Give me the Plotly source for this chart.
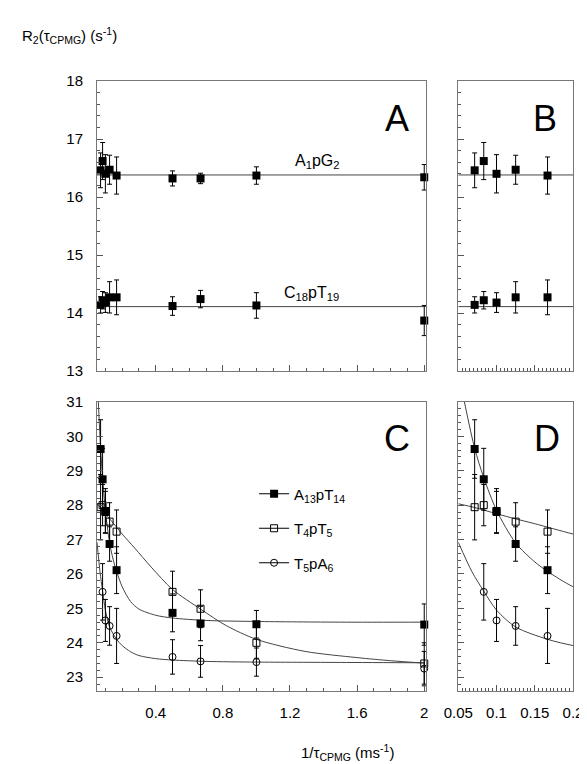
import plotly.graph_objects as go

# ---------------- data ----------------
inv_tau = [0.0714, 0.0833, 0.1, 0.125, 0.1667, 0.5, 0.667, 1.0, 2.0]

a1pg2 = [16.46, 16.62, 16.40, 16.47, 16.37, 16.32, 16.32, 16.37, 16.34]
a1pg2_err = [0.30, 0.32, 0.33, 0.25, 0.32, 0.13, 0.09, 0.15, 0.22]
a1pg2_fit = 16.38

c18pt19 = [14.14, 14.22, 14.18, 14.27, 14.27, 14.12, 14.24, 14.13, 13.87]
c18pt19_err = [0.14, 0.15, 0.17, 0.27, 0.30, 0.16, 0.15, 0.22, 0.26]
c18pt19_fit = 14.11

a13pt14 = [29.63, 28.75, 27.83, 26.87, 26.11, 24.87, 24.56, 24.54, 24.53]
a13pt14_err = [0.85, 0.90, 0.65, 0.50, 0.68, 0.55, 0.50, 0.40, 0.60]

t4pt5 = [27.94, 28.00, 27.80, 27.52, 27.23, 25.48, 24.99, 24.00, 23.40]
t4pt5_err = [0.95, 0.60, 0.60, 0.55, 0.63, 0.60, 0.55, 0.45, 0.60]

t5pa6_x = [0.0833, 0.1, 0.125, 0.1667, 0.5, 0.667, 1.0, 2.0]
t5pa6 = [25.48, 24.65, 24.49, 24.20, 23.59, 23.46, 23.44, 23.25]
t5pa6_err = [0.82, 0.61, 0.56, 0.80, 0.50, 0.46, 0.41, 0.50]

# fitted curves
fit_a13_x = [0.058, 0.0714, 0.0833, 0.1, 0.125, 0.15, 0.167, 0.2, 0.25, 0.3, 0.4, 0.5, 0.7, 1.0, 1.5, 2.0]
fit_a13_y = [31.0, 29.65, 28.8, 27.85, 26.9, 26.35, 26.07, 25.63, 25.2, 24.98, 24.8, 24.72, 24.65, 24.62, 24.6, 24.6]

fit_t4_x = [0.05, 0.0714, 0.1, 0.125, 0.15, 0.2, 0.275, 0.373, 0.5, 0.667, 0.82, 1.0, 1.29, 1.6, 1.8, 2.0]
fit_t4_y = [28.04, 27.93, 27.75, 27.6, 27.46, 27.16, 26.75, 26.2, 25.55, 24.98, 24.5, 24.1, 23.75, 23.57, 23.48, 23.41]

fit_t5_x = [0.05, 0.068, 0.0833, 0.1, 0.125, 0.167, 0.2, 0.25, 0.3, 0.4, 0.5, 0.7, 1.0, 1.5, 2.0]
fit_t5_y = [26.92, 26.06, 25.5, 24.95, 24.46, 24.1, 23.92, 23.74, 23.63, 23.54, 23.5, 23.46, 23.44, 23.43, 23.42]

x_range_long = [0.05, 2.01]
x_range_short = [0.05, 0.2]

FONT = "Arial, Liberation Sans, sans-serif"
LINE = "#444"


def gapify(v):
    out = []
    for i, a in enumerate(v):
        if i:
            out.append(None)
        out.append(a)
    return out


fig = go.Figure()


def err(arr, color="black"):
    return dict(type="data", array=arr, width=2.5, thickness=1, color=color)


# ---- panels A and B ----
for xa, ya in (("x", "y"), ("x2", "y2")):
    rng = x_range_long if xa == "x" else x_range_short
    fig.add_trace(go.Scatter(x=rng, y=[a1pg2_fit, a1pg2_fit], mode="lines",
                             line=dict(color=LINE, width=1), xaxis=xa, yaxis=ya,
                             showlegend=False, hoverinfo="skip"))
    fig.add_trace(go.Scatter(x=rng, y=[c18pt19_fit, c18pt19_fit], mode="lines",
                             line=dict(color=LINE, width=1), xaxis=xa, yaxis=ya,
                             showlegend=False, hoverinfo="skip"))
    fig.add_trace(go.Scatter(x=inv_tau, y=a1pg2, mode="markers", error_y=err(a1pg2_err),
                             marker=dict(symbol="square", size=8, color="black"),
                             xaxis=xa, yaxis=ya, showlegend=False, cliponaxis=False))
    fig.add_trace(go.Scatter(x=inv_tau, y=c18pt19, mode="markers", error_y=err(c18pt19_err),
                             marker=dict(symbol="square", size=8, color="black"),
                             xaxis=xa, yaxis=ya, showlegend=False, cliponaxis=False))

# ---- panels C and D ----
for xa, ya in (("x3", "y3"), ("x4", "y4")):
    main = xa == "x3"
    for fx, fy in ((fit_a13_x, fit_a13_y), (fit_t4_x, fit_t4_y), (fit_t5_x, fit_t5_y)):
        fig.add_trace(go.Scatter(x=fx, y=fy, mode="lines",
                                 line=dict(color=LINE, width=1, shape="spline", smoothing=0.8),
                                 xaxis=xa, yaxis=ya, showlegend=False, hoverinfo="skip"))
    series = [
        (inv_tau, a13pt14, a13pt14_err, dict(symbol="square", size=8, color="black"),
         "A<sub>13</sub>pT<sub>14</sub>", "g1"),
        (inv_tau, t4pt5, t4pt5_err,
         dict(symbol="square-open", size=7, color="black", line=dict(width=1)),
         "T<sub>4</sub>pT<sub>5</sub>", "g2"),
        (t5pa6_x, t5pa6, t5pa6_err,
         dict(symbol="circle-open", size=7, color="black", line=dict(width=1)),
         "T<sub>5</sub>pA<sub>6</sub>", "g3"),
    ]
    for sx, sy, se, mk, name, grp in series:
        if main:
            fig.add_trace(go.Scatter(x=gapify(sx), y=gapify(sy), mode="lines+markers",
                                     connectgaps=False,
                                     error_y=err(gapify(se)), marker=mk,
                                     line=dict(color="black", width=1),
                                     name=name, legendgroup=grp, showlegend=True,
                                     xaxis=xa, yaxis=ya, cliponaxis=False))
        else:
            fig.add_trace(go.Scatter(x=sx, y=sy, mode="markers", error_y=err(se), marker=mk,
                                     xaxis=xa, yaxis=ya, showlegend=False, cliponaxis=True))

# ---------------- axes ----------------
AX = dict(showgrid=False, zeroline=False, showline=True, linecolor="#777", linewidth=1,
          mirror=True, ticks="inside", tickcolor="#555", ticklen=6,
          tickfont=dict(family=FONT, size=15, color="black"))

dom_left = [0, 0.691]
dom_right = [0.759, 1.0]
dom_top = [0.5246, 1.0]
dom_bot = [0.0, 0.474]

fig.update_layout(
    xaxis=dict(AX, domain=dom_left, anchor="y", range=x_range_long, tick0=0, dtick=0.4,
               showticklabels=False, minor=dict(dtick=0.1, ticks="inside", ticklen=3, tickcolor="#555")),
    yaxis=dict(AX, domain=dom_top, anchor="x", range=[13, 18], dtick=1, ticklabelstandoff=10,
               minor=dict(dtick=0.2, ticks="inside", ticklen=3, tickcolor="#555")),
    xaxis2=dict(AX, domain=dom_right, anchor="y2", range=x_range_short, tick0=0, dtick=0.05,
                showticklabels=False, minor=dict(dtick=0.005, ticks="inside", ticklen=3, tickcolor="#555")),
    yaxis2=dict(AX, domain=dom_top, anchor="x2", range=[13, 18], dtick=1, showticklabels=False,
                minor=dict(dtick=0.2, ticks="inside", ticklen=3, tickcolor="#555")),
    xaxis3=dict(AX, domain=dom_left, anchor="y3", range=x_range_long,
                tickvals=[0.4, 0.8, 1.2, 1.6, 2.0], ticktext=["0.4", "0.8", "1.2", "1.6", "2"],
                ticklabelstandoff=8,
                minor=dict(dtick=0.1, ticks="inside", ticklen=3, tickcolor="#555")),
    yaxis3=dict(AX, domain=dom_bot, anchor="x3", range=[22.6, 31], tick0=23, dtick=1,
                ticklabelstandoff=10,
                minor=dict(dtick=0.2, ticks="inside", ticklen=3, tickcolor="#555")),
    xaxis4=dict(AX, domain=dom_right, anchor="y4", range=x_range_short,
                tickvals=[0.05, 0.1, 0.15, 0.2], ticktext=["0.05", "0.1", "0.15", "0.2"],
                ticklabelstandoff=8,
                minor=dict(dtick=0.005, ticks="inside", ticklen=3, tickcolor="#555")),
    yaxis4=dict(AX, domain=dom_bot, anchor="x4", range=[22.6, 31], tick0=23, dtick=1,
                showticklabels=False,
                minor=dict(dtick=0.2, ticks="inside", ticklen=3, tickcolor="#555")),
)

# ---------------- text ----------------
ann = []
for txt, xr, yr, xv, yv in (("A", "x", "y", 1.84, 17.36), ("B", "x2", "y2", 0.163, 17.36),
                            ("C", "x3", "y3", 1.84, 29.95), ("D", "x4", "y4", 0.166, 29.95)):
    ann.append(dict(text=txt, xref=xr, yref=yr, x=xv, y=yv, showarrow=False,
                    font=dict(family=FONT, size=36, color="black")))
ann.append(dict(text="A<sub>1</sub>pG<sub>2</sub>", xref="x", yref="y", x=1.36, y=16.62,
                showarrow=False, font=dict(family=FONT, size=16, color="black")))
ann.append(dict(text="C<sub>18</sub>pT<sub>19</sub>", xref="x", yref="y", x=1.33, y=14.34,
                showarrow=False, font=dict(family=FONT, size=16, color="black")))
ann.append(dict(text="R<sub>2</sub>(τ<sub>CPMG</sub>) (s<sup>-1</sup>)", xref="paper", yref="paper",
                x=-0.162, y=1.075, xanchor="left", yanchor="middle", showarrow=False,
                font=dict(family=FONT, size=15, color="black")))
ann.append(dict(text="1/τ<sub>CPMG</sub> (ms<sup>-1</sup>)", xref="paper", yref="paper",
                x=0.527, y=-0.1, xanchor="center", yanchor="middle", showarrow=False,
                font=dict(family=FONT, size=15, color="black")))

fig.update_layout(
    width=587, height=764,
    margin=dict(l=89, r=16, t=73, b=81),
    paper_bgcolor="white", plot_bgcolor="white",
    annotations=ann,
    showlegend=True,
    legend=dict(x=0.33, y=0.35, xanchor="left", yanchor="top", bgcolor="rgba(0,0,0,0)",
                font=dict(family=FONT, size=15, color="black"), tracegroupgap=12,
                itemwidth=30),
)

fig.write_html("out.html")
